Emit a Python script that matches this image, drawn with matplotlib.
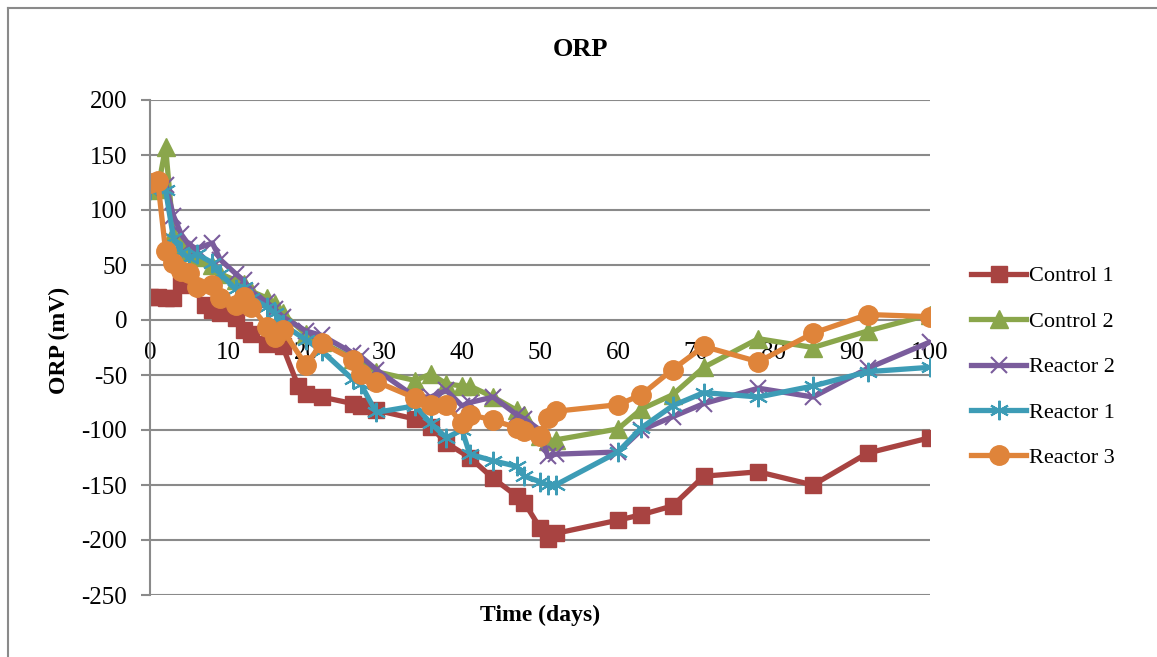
import matplotlib
matplotlib.use("Agg")
import matplotlib.pyplot as plt
from matplotlib.lines import Line2D

# Muestreos (días) y potencial redox (mV) por reactor
dias_c1 = [0, 1, 2, 3, 4, 5, 7, 8, 9, 11, 12, 13, 15, 17, 19, 20, 22, 26, 27, 29,
           34, 36, 38, 41, 44, 47, 48, 50, 51, 52, 60, 63, 67, 71, 78, 85, 92, 100]
control_1 = [21, 21, 20, 20, 32, 34, 14, 9, 6, 2, -9, -13, -22, -24, -60, -67, -70, -76, -78, -82,
             -90, -97, -112, -125, -144, -160, -166, -189, -199, -194, -182, -177, -169, -142, -138, -150, -121, -107]

dias = [0, 1, 2, 3, 4, 5, 6, 8, 9, 11, 12, 13, 15, 16, 17, 20, 22, 26, 27, 29,
        34, 36, 38, 40, 41, 44, 47, 48, 50, 51, 52, 60, 63, 67, 71, 78, 85, 92, 100]
control_2 = [118, 119, 157, 78, 68, 62, 57, 50, 42, 36, 33, 26, 20, 15, 6, -13, -20, -35, -38, -47,
             -55, -49, -58, -60, -60, -70, -82, -86, -105, -110, -109, -99, -81, -68, -43, -17, -25, -10, 5]
reactor_2 = [120, 122, 123, 95, 78, 68, 65, 70, 55, 42, 36, 26, 16, 10, 3, -10, -14, -30, -33, -45,
             -70, -70, -64, -78, -75, -70, -86, -90, -100, -124, -122, -120, -100, -88, -76, -62, -70, -44, -20]
reactor_1 = [118, 120, 118, 75, 62, 56, 60, 52, 42, 28, 30, 20, 12, 6, -4, -18, -28, -54, -58, -84,
             -78, -94, -107, -100, -122, -128, -133, -142, -147, -150, -150, -120, -98, -78, -66, -70, -60, -47, -43]
reactor_3 = [125, 126, 63, 52, 45, 43, 30, 32, 20, 14, 21, 12, -6, -15, -9, -41, -21, -36, -49, -56,
             -71, -77, -77, -94, -86, -91, -98, -101, -105, -89, -83, -77, -68, -45, -24, -38, -12, 5, 3]

x_ticks = list(range(0, 101, 10))
y_ticks = list(range(-250, 201, 50))

plt.rcParams["font.family"] = ["Liberation Serif", "DejaVu Serif"]
plt.rcParams["axes.unicode_minus"] = False

W, H = 1157, 657
fig = plt.figure(figsize=(W / 100, H / 100), dpi=100)
ax = fig.add_axes([150 / W, 1 - 595 / H, 780 / W, 495 / H])

series = [
    ("Control 1", dias_c1, control_1, "#A84341", dict(marker="s", ms=12)),
    ("Control 2", dias, control_2, "#8AA64B", dict(marker="^", ms=13)),
    ("Reactor 2", dias, reactor_2, "#7A5C9C", dict(marker="x", ms=12, mew=1.5)),
    ("Reactor 1", dias, reactor_1, "#3D9CB6", dict(marker=(6, 2, 0), ms=14, mew=1.5)),
    ("Reactor 3", dias, reactor_3, "#DF843A", dict(marker="o", ms=14)),
]
for nombre, x, y, color, estilo in series:
    ax.plot(x, y, color=color, lw=3.8, label=nombre, mfc=color, mec=color, **estilo)

ax.set_xlim(0, 100)
ax.set_ylim(-250, 200)
ax.set_xticks(x_ticks)
ax.set_yticks(y_ticks)
ax.grid(axis="y", color="#8A8A8A", lw=1.5)
ax.set_axisbelow(True)
for s in ("top", "right"):
    ax.spines[s].set_visible(False)
ax.spines["bottom"].set_position(("data", 0))
ax.spines["bottom"].set_visible(False)
ax.spines["left"].set_color("#8A8A8A")
ax.spines["left"].set_linewidth(1.5)
ax.tick_params(axis="x", length=0, pad=16, labelsize=18)
ax.tick_params(axis="y", length=6.5, width=1.5, color="#8A8A8A", labelsize=18, pad=10)

# títulos como texto de figura (el eje x cruza en cero)
fig.text(580 / W, 1 - 50 / H, "ORP", fontsize=19, fontweight="bold", ha="center", va="center")
fig.text(59 / W, 1 - 340 / H, "ORP (mV)", fontsize=17, fontweight="bold",
         ha="center", va="center", rotation=90)
fig.text(540 / W, 1 - 615 / H, "Time (days)", fontsize=17, fontweight="bold",
         ha="center", va="center")

ax.legend(loc="center left", bbox_to_anchor=(962 / W, 1 - 367 / H),
          bbox_transform=fig.transFigure, frameon=False, fontsize=16,
          handlelength=2.5, handletextpad=0.1, labelspacing=1.12, borderaxespad=0)

# marco exterior del gráfico
fig.add_artist(Line2D([8 / W, 1], [1 - 8 / H, 1 - 8 / H], color="#8A8A8A", lw=1.5))
fig.add_artist(Line2D([8 / W, 8 / W], [0, 1 - 8 / H], color="#8A8A8A", lw=1.5))

fig.savefig("out.png", dpi=100)
